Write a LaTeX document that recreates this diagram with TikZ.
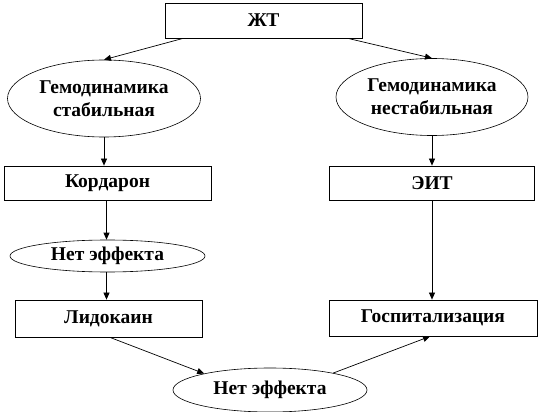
\documentclass[tikz,border=0pt]{standalone}
\usepackage{fontspec}
\setmainfont{Liberation Serif}
\usetikzlibrary{arrows.meta,shapes.geometric}
\begin{document}
\begin{tikzpicture}[x=1pt,y=-1pt,
  every node/.style={font=\fontsize{19.5}{23}\selectfont\bfseries, inner sep=0pt, align=center},
  box/.style={draw, line width=0.8pt, rectangle},
  oval/.style={draw, line width=0.6pt, ellipse},
  arr/.style={draw, line width=0.7pt, -{Triangle[length=7pt,width=6pt]}}]
\fill[white] (0,0) rectangle (539,412);
\useasboundingbox (0,0) rectangle (539,412);
\node[box, minimum width=197pt, minimum height=35pt] (zht) at (263.5,20.5) {ЖТ};
\node[oval, minimum width=193pt, minimum height=77pt] (e1) at (104,98.5) {Гемодинамика\\стабильная};
\node[oval, minimum width=192pt, minimum height=77pt] (e2) at (432,97) {Гемодинамика\\нестабильная};
\node[box, minimum width=207pt, minimum height=34pt] (kord) at (107.5,183) {Кордарон};
\node[box, minimum width=205pt, minimum height=34pt] (eit) at (432,183) {ЭИТ};
\node[oval, minimum width=195pt, minimum height=32pt] (e3) at (107.5,256) {Нет эффекта};
\node[box, minimum width=187pt, minimum height=37pt] (lid) at (108.5,318.5) {Лидокаин};
\node[box, minimum width=208pt, minimum height=36pt] (gosp) at (433,318) {Госпитализация};
\node[oval, minimum width=194pt, minimum height=44pt] (e4) at (270,390) {Нет эффекта};
\draw[arr] ([xshift=-80.5pt]zht.south) -- (e1.north);
\draw[arr] ([xshift=84.5pt]zht.south) -- (e2.north);
\draw[arr] (e1.south) -- (e1.south |- kord.north);
\draw[arr] (e2.south) -- (e2.south |- eit.north);
\draw[arr] ([xshift=-1pt]kord.south) -- ([xshift=-1pt]kord.south |- e3.north);
\draw[arr] ([xshift=-1pt]e3.south) -- ([xshift=-1pt]e3.south |- lid.north);
\draw[arr] (eit.south) -- (eit.south |- gosp.north);
\draw[arr] ([xshift=1.5pt]lid.south) -- (e4.166);
\draw[arr] (e4.15) -- ([xshift=-3pt]gosp.south);
\end{tikzpicture}
\end{document}
